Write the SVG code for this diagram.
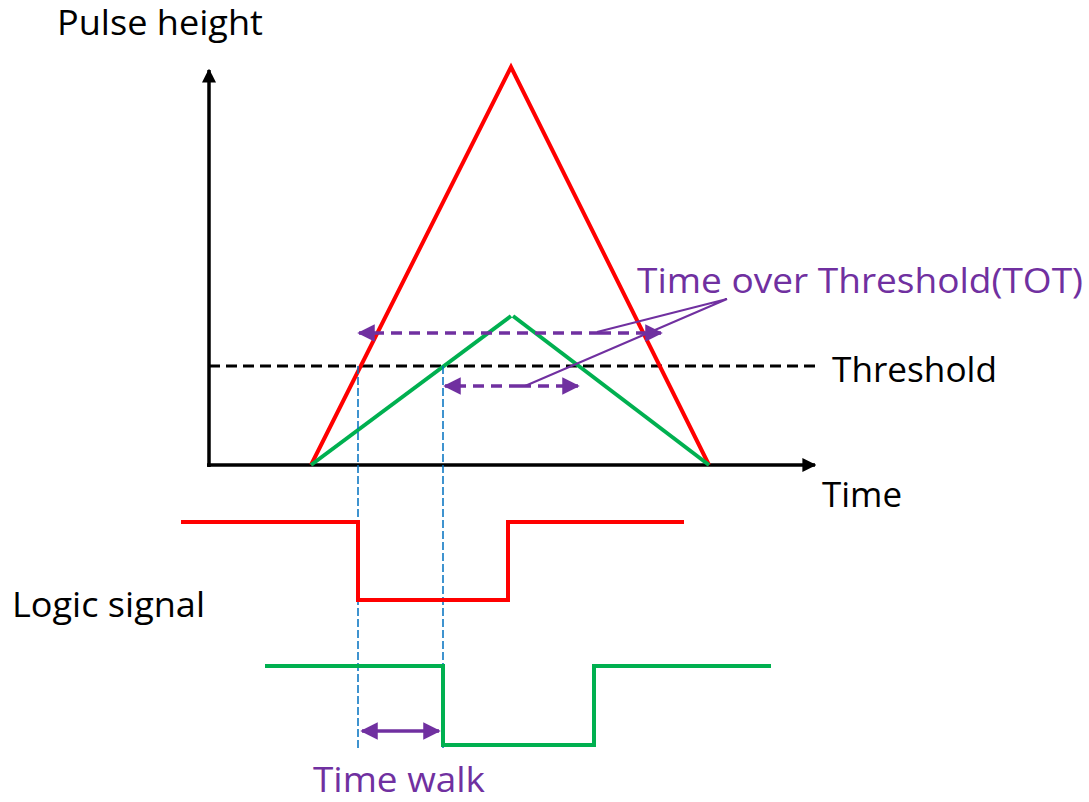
<svg xmlns="http://www.w3.org/2000/svg" width="1089" height="802" viewBox="0 0 1089 802">
<style>
.t{font-family:"Open Sans","Liberation Sans",sans-serif;font-size:34px;fill:#000}
.p{fill:#7030A0}
.red{stroke:#FF0000;stroke-width:4;fill:none}
.grn{stroke:#00B050;stroke-width:4;fill:none}
.ax{stroke:#000;stroke-width:3.5;fill:none}
.tot{stroke:#7030A0;stroke-width:3.5;stroke-dasharray:11 7;fill:none}
.lead{stroke:#7030A0;stroke-width:2;fill:none}
.vb{stroke:#0070C0;stroke-width:1.5;stroke-dasharray:8 3;fill:none}
</style>
<defs>
<marker id="ak" viewBox="0 0 10 10" refX="9" refY="5" markerWidth="4" markerHeight="4" orient="auto-start-reverse" markerUnits="strokeWidth"><path d="M0,0 L10,5 L0,10 z" fill="#000"/></marker>
<marker id="ap" viewBox="0 0 10 10" refX="9" refY="5" markerWidth="5" markerHeight="5" orient="auto-start-reverse" markerUnits="strokeWidth"><path d="M0,0 L10,5 L0,10 z" fill="#7030A0"/></marker>
</defs>
<g id="axes">
<line class="ax" x1="209" y1="467" x2="209" y2="70" marker-end="url(#ak)"/>
<line class="ax" x1="207" y1="465" x2="815" y2="465" marker-end="url(#ak)"/>
</g>
<g id="threshold">
<line x1="209" y1="366" x2="815" y2="366" stroke="#000" stroke-width="3" stroke-dasharray="11 6"/>
<text class="t" x="832" y="382" font-size="36" textLength="165" lengthAdjust="spacingAndGlyphs">Threshold</text>
</g>
<g id="pulse-red"><polyline class="red" points="311,465 511,67 709,465"/></g>
<g id="pulse-green"><polyline class="grn" points="311,465 511,316"/><polyline class="grn" points="513,316 709,465"/></g>
<g id="connectors">
<line class="vb" x1="358" y1="366" x2="358" y2="748"/>
<line class="vb" x1="443" y1="366" x2="443" y2="748"/>
<line class="tot" x1="600" y1="333" x2="359" y2="333" marker-end="url(#ap)"/>
<line class="tot" x1="600" y1="333" x2="661" y2="333" marker-end="url(#ap)"/>
<line class="tot" x1="520" y1="386" x2="445" y2="386" marker-end="url(#ap)"/>
<line class="tot" x1="520" y1="386" x2="578" y2="386" marker-end="url(#ap)"/>
<polyline class="lead" points="597,332 727,299 525,386"/>
<line x1="362" y1="731" x2="439" y2="731" stroke="#7030A0" stroke-width="3.5" marker-start="url(#ap)" marker-end="url(#ap)"/>
</g>
<g id="logic-red"><polyline class="red" points="181,522 358,522 358,600 508,600 508,522 684,522"/></g>
<g id="logic-green"><polyline class="grn" points="265,666 443,666 443,745 594,745 594,666 771,666"/></g>
<g id="labels">
<text class="t" x="57" y="35" textLength="206" lengthAdjust="spacingAndGlyphs">Pulse height</text>
<text class="t" x="822" y="507" font-size="35" textLength="80" lengthAdjust="spacingAndGlyphs">Time</text>
<text class="t" x="12" y="617" textLength="193" lengthAdjust="spacingAndGlyphs">Logic signal</text>
<text class="t p" x="637" y="293" textLength="446" lengthAdjust="spacingAndGlyphs">Time over Threshold(TOT)</text>
<text class="t p" x="313" y="792" textLength="172" lengthAdjust="spacingAndGlyphs">Time walk</text>
</g>
</svg>
